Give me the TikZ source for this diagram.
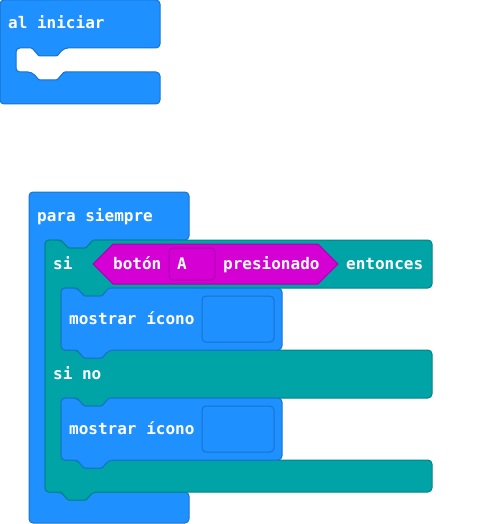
\documentclass[tikz,border=0pt]{standalone}
\usepackage{fontspec}
\setmonofont{DejaVu Sans Mono}
\usepackage{tikz}

\definecolor{basic}{HTML}{1E90FF}
\definecolor{basicdark}{HTML}{1873CC}
\definecolor{logic}{HTML}{00A4A6}
\definecolor{logicdark}{HTML}{008385}
\definecolor{input}{HTML}{D400D4}
\definecolor{inputdark}{HTML}{AA00AA}

% notch, going right (dent down) or left (tab down)
\newcommand{\notchright}{[rounded corners=1pt] -- ++(7,8) -- ++(18,0) -- ++(7,-8) [rounded corners=4pt]}
\newcommand{\notchleft}{[rounded corners=1pt] -- ++(-7,8) -- ++(-18,0) -- ++(-7,-8) [rounded corners=4pt]}

\begin{document}
\begin{tikzpicture}[x=1pt,y=-1pt,
    blk/.style={rounded corners=4pt,line width=1pt,line join=round},
    fieldbox/.style={rounded corners=4pt,line width=1pt}]
\useasboundingbox (0,0) rectangle (484,524);

% al iniciar
\draw[blk,fill=basic,draw=basicdark] (0,0) -- (160,0) -- (160,48) -- (64,48) \notchleft -- (16,48) -- (16,72) -- (32,72) \notchright -- (160,72) -- (160,104) -- (0,104) -- cycle;

% para siempre
\draw[blk,fill=basic,draw=basicdark] (29,192) -- (189,192) -- (189,240) -- (93,240) \notchleft -- (45,240) -- (45,492) -- (61,492) \notchright -- (189,492) -- (189,523) -- (29,523) -- cycle;

% si ... si no
\draw[blk,fill=logic,draw=logicdark] (45,240) -- (61,240) \notchright -- (432,240) -- (432,288) -- (109,288) \notchleft -- (61,288) -- (61,350) -- (77,350) \notchright -- (432,350) -- (432,398) -- (109,398) \notchleft -- (61,398) -- (61,460) -- (77,460) \notchright -- (432,460) -- (432,492) -- (93,492) \notchleft -- (45,492) -- cycle;

% mostrar icono
\draw[blk,fill=basic,draw=basicdark] (61,288) -- (77,288) \notchright -- (282,288) -- (282,350) -- (109,350) \notchleft -- (61,350) -- cycle;
\draw[blk,fill=basic,draw=basicdark] (61,398) -- (77,398) \notchright -- (282,398) -- (282,460) -- (109,460) \notchleft -- (61,460) -- cycle;

% boton A presionado
\draw[fill=input,draw=inputdark,line width=1pt] (93,264) -- (113,244) -- (318,244) -- (338,264) -- (318,284) -- (113,284) -- cycle;
\draw[fieldbox,fill=input,draw=inputdark] (169,248) rectangle (215,280);
\draw[fieldbox,fill=basic,draw=basicdark] (202,296) rectangle (274,342);
\draw[fieldbox,fill=basic,draw=basicdark] (202,406) rectangle (274,452);

\begin{scope}[every node/.style={anchor=base west,inner sep=0pt,text=white,font=\fontsize{16pt}{16pt}\ttfamily\bfseries}]
    \node (I) at (8,29) {al iniciar};
    \node (F) at (37,221) {para siempre};
    \node (S) at (53,269) {si};
    \node (B) at (113,269) {botón};
    \node (A) at (177,269) {A};
    \node (P) at (223,269) {presionado};
    \node (E) at (346,269) {entonces};
    \node (M1) at (69,324) {mostrar ícono};
    \node (N) at (53,379) {si no};
    \node (M2) at (69,434) {mostrar ícono};
\end{scope}
\end{tikzpicture}
\end{document}
